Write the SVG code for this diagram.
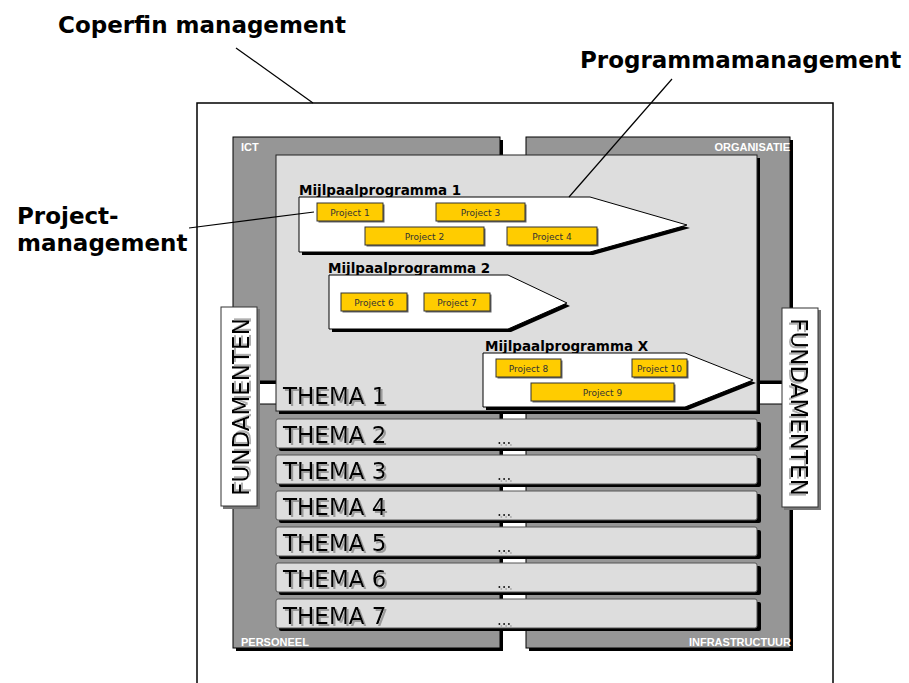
<svg xmlns="http://www.w3.org/2000/svg" width="909" height="683" viewBox="0 0 909 683">
<defs>
<filter id="tsh" x="-10%" y="-20%" width="130%" height="150%">
<feFlood flood-color="#9a9a9a" result="c"/>
<feComposite in="c" in2="SourceAlpha" operator="in" result="s"/>
<feOffset in="s" dx="2" dy="2" result="o"/>
<feMerge><feMergeNode in="o"/><feMergeNode in="SourceGraphic"/></feMerge>
</filter>
<filter id="tsh2" x="-20%" y="-20%" width="140%" height="140%">
<feFlood flood-color="#b0b0b0" result="c"/>
<feComposite in="c" in2="SourceAlpha" operator="in" result="s"/>
<feOffset in="s" dx="1.5" dy="1.5" result="o"/>
<feMerge><feMergeNode in="o"/><feMergeNode in="SourceGraphic"/></feMerge>
</filter>
</defs>
<style>
.quad{fill:#969696;stroke:#000;stroke-width:1}
.shadow{fill:#000}
.qlabel{font-family:"Liberation Sans",Arial,sans-serif;font-weight:bold;font-size:11px;fill:#fff}
.inner{fill:#dddddd;stroke:#222;stroke-width:1}
.bar{fill:#dddddd;stroke:#555;stroke-width:1}
.thema{font-family:"DejaVu Sans",Verdana,sans-serif;font-size:23px;fill:#000;filter:url(#tsh)}
.dots{font-family:"DejaVu Sans",Verdana,sans-serif;font-size:15px;fill:#222;filter:url(#tsh2)}
.fund{fill:#fff;stroke:#333;stroke-width:1}
.fundsh{fill:#777}
.fundt{font-family:"DejaVu Sans",Verdana,sans-serif;font-size:23px;fill:#000;text-anchor:middle;filter:url(#tsh2)}
.arrow{fill:#fff;stroke:#000;stroke-width:1}
.mlabel{font-family:"DejaVu Sans",Verdana,sans-serif;font-weight:bold;font-size:13.5px;fill:#000}
.proj{fill:#ffcc00;stroke:#333;stroke-width:1}
.projsh{fill:#666}
.projt{font-family:"DejaVu Sans",Verdana,sans-serif;font-size:9px;fill:#333;text-anchor:middle}
.big{font-family:"DejaVu Sans",Verdana,sans-serif;font-weight:bold;font-size:23px;fill:#000}
.conn{stroke:#000;stroke-width:1.2;fill:none}
</style>

<g id="outer">
<rect x="197" y="103" width="636" height="620" fill="#fff" stroke="#000" stroke-width="1.5"/>
</g>

<g id="quad-ict">
<rect class="shadow" x="236" y="140" width="267" height="244"/>
<rect class="quad" x="233" y="137" width="267" height="244"/>
<text class="qlabel" x="241" y="151">ICT</text>
</g>
<g id="quad-organisatie">
<rect class="shadow" x="529" y="140" width="264" height="244"/>
<rect class="quad" x="526" y="137" width="264" height="244"/>
<text class="qlabel" x="790" y="151" text-anchor="end">ORGANISATIE</text>
</g>
<g id="quad-personeel">
<rect class="shadow" x="236" y="407" width="267" height="244"/>
<rect class="quad" x="233" y="404" width="267" height="244"/>
<text class="qlabel" x="241" y="646">PERSONEEL</text>
</g>
<g id="quad-infrastructuur">
<rect class="shadow" x="529" y="407" width="264" height="244"/>
<rect class="quad" x="526" y="404" width="264" height="244"/>
<text class="qlabel" x="791" y="646" text-anchor="end">INFRASTRUCTUUR</text>
</g>

<g id="fundamenten-left">
<rect class="fundsh" x="223" y="309" width="37" height="200"/>
<rect class="fund" x="221" y="307" width="36" height="199"/>
<text class="fundt" transform="translate(249,407) rotate(-90)" x="0" y="0">FUNDAMENTEN</text>
</g>
<g id="fundamenten-right">
<rect class="fundsh" x="784" y="310" width="37" height="200"/>
<rect class="fund" x="782" y="308" width="36" height="199"/>
<text class="fundt" transform="translate(791,407) rotate(90)" x="0" y="0">FUNDAMENTEN</text>
</g>

<g id="thema1">
<rect class="shadow" x="279" y="158" width="481" height="256"/>
<rect class="inner" x="276" y="155" width="481" height="256"/>
<text class="thema" x="283" y="404">THEMA 1</text>
</g>

<g id="thema2">
<rect class="shadow" x="279" y="422" width="482" height="29" rx="2"/>
<rect class="bar" x="276" y="419" width="481" height="29" rx="2"/>
<text class="thema" x="283" y="443">THEMA 2</text>
<text class="dots" x="497" y="444">...</text>
</g>
<g id="thema3">
<rect class="shadow" x="279" y="458" width="482" height="29" rx="2"/>
<rect class="bar" x="276" y="455" width="481" height="29" rx="2"/>
<text class="thema" x="283" y="479">THEMA 3</text>
<text class="dots" x="497" y="480">...</text>
</g>
<g id="thema4">
<rect class="shadow" x="279" y="494" width="482" height="29" rx="2"/>
<rect class="bar" x="276" y="491" width="481" height="29" rx="2"/>
<text class="thema" x="283" y="515">THEMA 4</text>
<text class="dots" x="497" y="516">...</text>
</g>
<g id="thema5">
<rect class="shadow" x="279" y="530" width="482" height="29" rx="2"/>
<rect class="bar" x="276" y="527" width="481" height="29" rx="2"/>
<text class="thema" x="283" y="551">THEMA 5</text>
<text class="dots" x="497" y="552">...</text>
</g>
<g id="thema6">
<rect class="shadow" x="279" y="566" width="482" height="29" rx="2"/>
<rect class="bar" x="276" y="563" width="481" height="29" rx="2"/>
<text class="thema" x="283" y="587">THEMA 6</text>
<text class="dots" x="497" y="588">...</text>
</g>
<g id="thema7">
<rect class="shadow" x="279" y="602" width="482" height="29" rx="2"/>
<rect class="bar" x="276" y="599" width="481" height="29" rx="2"/>
<text class="thema" x="283" y="624">THEMA 7</text>
<text class="dots" x="497" y="625">...</text>
</g>

<g id="mijlpaal1">
<text class="mlabel" x="299" y="195">Mijlpaalprogramma 1</text>
<polygon class="shadow" points="302,200 593,200 690,228 593,255 302,255"/>
<polygon class="arrow" points="299,197 590,197 687,225 590,252 299,252"/>
</g>
<g id="project1">
<rect class="projsh" x="318.5" y="204.5" width="66" height="18"/>
<rect class="proj" x="317" y="203" width="66" height="18"/>
<text class="projt" x="350" y="215.5">Project 1</text>
</g>
<g id="project3">
<rect class="projsh" x="437.5" y="204.5" width="89" height="18"/>
<rect class="proj" x="436" y="203" width="89" height="18"/>
<text class="projt" x="480.5" y="215.5">Project 3</text>
</g>
<g id="project2">
<rect class="projsh" x="366.5" y="228.5" width="119" height="18"/>
<rect class="proj" x="365" y="227" width="119" height="18"/>
<text class="projt" x="424.5" y="239.5">Project 2</text>
</g>
<g id="project4">
<rect class="projsh" x="508.5" y="228.5" width="90" height="18"/>
<rect class="proj" x="507" y="227" width="90" height="18"/>
<text class="projt" x="552" y="239.5">Project 4</text>
</g>

<g id="mijlpaal2">
<text class="mlabel" x="328" y="273">Mijlpaalprogramma 2</text>
<polygon class="shadow" points="332,278 511,278 570,306 511,332 332,332"/>
<polygon class="arrow" points="329,275 508,275 567,303 508,329 329,329"/>
</g>
<g id="project6">
<rect class="projsh" x="342.5" y="294.5" width="66" height="18"/>
<rect class="proj" x="341" y="293" width="66" height="18"/>
<text class="projt" x="374" y="305.5">Project 6</text>
</g>
<g id="project7">
<rect class="projsh" x="425.5" y="294.5" width="66" height="18"/>
<rect class="proj" x="424" y="293" width="66" height="18"/>
<text class="projt" x="457" y="305.5">Project 7</text>
</g>

<g id="mijlpaalX">
<text class="mlabel" x="485" y="351">Mijlpaalprogramma X</text>
<polygon class="shadow" points="486,356 688,356 756,383 688,410 486,410"/>
<polygon class="arrow" points="483,353 685,353 753,380 685,407 483,407"/>
</g>
<g id="project8">
<rect class="projsh" x="497.5" y="360.5" width="65" height="18"/>
<rect class="proj" x="496" y="359" width="65" height="18"/>
<text class="projt" x="528.5" y="371.5">Project 8</text>
</g>
<g id="project10">
<rect class="projsh" x="633.5" y="360.5" width="55" height="18"/>
<rect class="proj" x="632" y="359" width="55" height="18"/>
<text class="projt" x="659.5" y="371.5">Project 10</text>
</g>
<g id="project9">
<rect class="projsh" x="532.5" y="384.5" width="143" height="18"/>
<rect class="proj" x="531" y="383" width="143" height="18"/>
<text class="projt" x="602.5" y="395.5">Project 9</text>
</g>

<g id="label-coperfin">
<text class="big" x="58" y="33">Coperfin management</text>
</g>
<g id="label-programmamanagement">
<text class="big" x="580" y="68">Programmamanagement</text>
</g>
<g id="label-projectmanagement">
<text class="big" x="17" y="224">Project-</text>
<text class="big" x="17" y="251">management</text>
</g>

<g id="connectors">
<line class="conn" x1="236" y1="48" x2="313" y2="103"/>
<line class="conn" x1="672" y1="79" x2="569" y2="197"/>
<line class="conn" x1="189" y1="228" x2="314" y2="212"/>
</g>
</svg>
